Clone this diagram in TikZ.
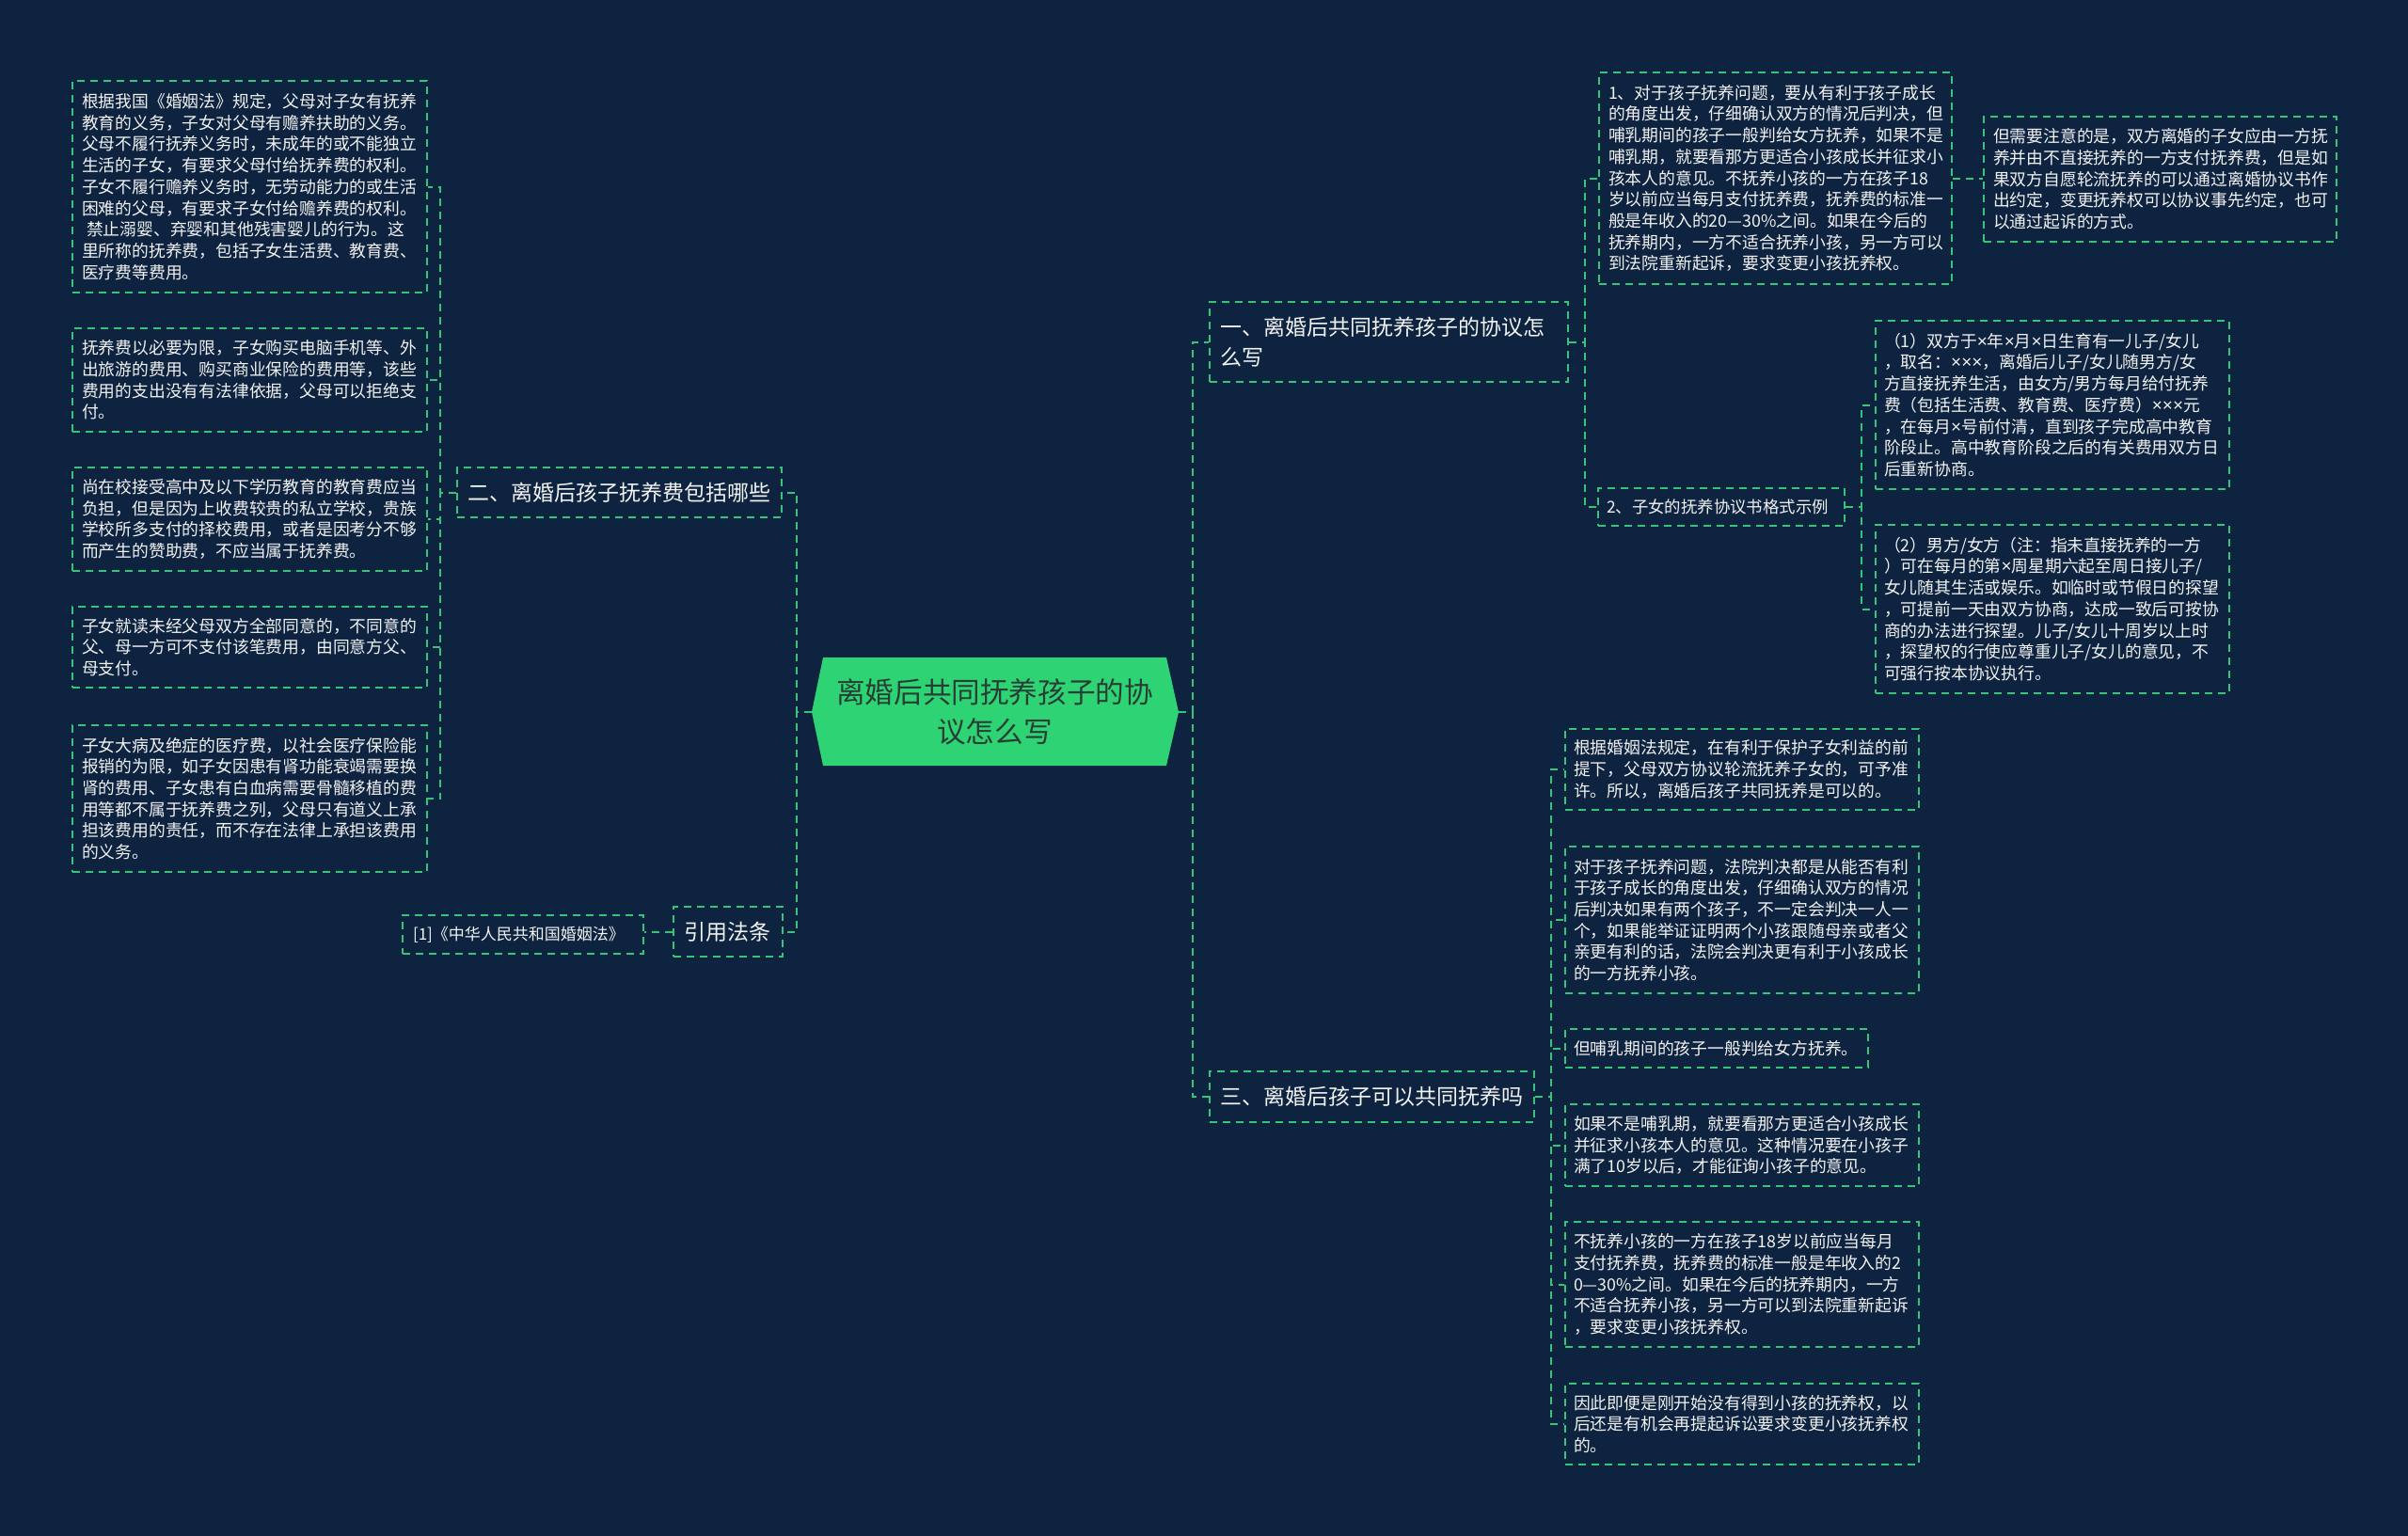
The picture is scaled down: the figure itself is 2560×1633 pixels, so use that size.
\documentclass[tikz,border=0pt]{standalone}
\usepackage{fontspec}
\setmainfont{Noto Sans CJK SC}
\newfontfamily\latfont{Liberation Sans}
\newcommand\tms{{\latfont\fontsize{19pt}{22.7pt}\selectfont ×}}
\usetikzlibrary{calc}
\definecolor{bg}{RGB}{13,35,63}
\definecolor{lc}{RGB}{56,196,118}
\definecolor{rootfill}{RGB}{46,212,116}
\definecolor{roottxt}{RGB}{40,62,52}
\definecolor{txt}{RGB}{242,242,242}
\begin{document}
\begin{tikzpicture}[x=1pt,y=-1pt,
  conn/.style={draw=lc,line width=2pt,dash pattern=on 8pt off 6pt},
  tbox/.style={draw=lc,line width=2pt,dash pattern=on 8pt off 6pt,text=txt,align=left,anchor=north west,inner xsep=10pt,inner ysep=0pt,font=\fontsize{17.8pt}{22.7pt}\selectfont},
  hbox/.style={tbox,inner xsep=11.5pt,font=\fontsize{23pt}{32pt}\selectfont}]
\useasboundingbox (0,0) rectangle (2560,1633);
\fill[bg] (0,0) rectangle (2560,1633);

% root
\fill[rootfill] (863,757) -- (875,699) -- (1240,699) -- (1253,757) -- (1240,814) -- (875,814) -- cycle;
\node[font=\fontsize{30.6pt}{42pt}\selectfont,text=roottxt,align=center,minimum width=365pt,minimum height=115pt,inner sep=0pt] (root) at (1057.5,756.5) {离婚后共同抚养孩子的协\\议怎么写};
\coordinate (rootL) at (863,757);
\coordinate (rootR) at (1253,757);

% left branch
\node[hbox,minimum width=345pt,minimum height=53pt,text width=322pt] (n2) at (485,496) {二、离婚后孩子抚养费包括哪些};
\node[hbox,minimum width=116pt,minimum height=53pt,text width=93pt] (ncite) at (715,963) {引用法条};
\node[tbox,inner xsep=11pt,minimum width=256pt,minimum height=41pt,text width=234pt,font=\fontsize{17pt}{22pt}\selectfont] (ref) at (427,972) {[1]《中华人民共和国婚姻法》};

\node[tbox,minimum width=377pt,minimum height=225pt,text width=357pt] (L1) at (76,85) {根据我国《婚姻法》规定，父母对子女有抚养\\教育的义务，子女对父母有赡养扶助的义务。\\父母不履行抚养义务时，未成年的或不能独立\\生活的子女，有要求父母付给抚养费的权利。\\子女不履行赡养义务时，无劳动能力的或生活\\困难的父母，有要求子女付给赡养费的权利。\\\hspace*{5pt}禁止溺婴、弃婴和其他残害婴儿的行为。这\\里所称的抚养费，包括子女生活费、教育费、\\医疗费等费用。};
\node[tbox,minimum width=377pt,minimum height=110pt,text width=357pt] (L2) at (76,348) {抚养费以必要为限，子女购买电脑手机等、外\\出旅游的费用、购买商业保险的费用等，该些\\费用的支出没有有法律依据，父母可以拒绝支\\付。};
\node[tbox,minimum width=377pt,minimum height=110pt,text width=357pt] (L3) at (76,496) {尚在校接受高中及以下学历教育的教育费应当\\负担，但是因为上收费较贵的私立学校，贵族\\学校所多支付的择校费用，或者是因考分不够\\而产生的赞助费，不应当属于抚养费。};
\node[tbox,minimum width=377pt,minimum height=86pt,text width=357pt] (L4) at (76,644) {子女就读未经父母双方全部同意的，不同意的\\父、母一方可不支付该笔费用，由同意方父、\\母支付。};
\node[tbox,minimum width=377pt,minimum height=156pt,text width=357pt] (L5) at (76,770) {子女大病及绝症的医疗费，以社会医疗保险能\\报销的为限，如子女因患有肾功能衰竭需要换\\肾的费用、子女患有白血病需要骨髓移植的费\\用等都不属于抚养费之列，父母只有道义上承\\担该费用的责任，而不存在法律上承担该费用\\的义务。};

% right branch
\node[hbox,inner xsep=11pt,minimum width=381pt,minimum height=85pt,text width=359pt] (n1) at (1285,320) {一、离婚后共同抚养孩子的协议怎\\么写};
\node[hbox,minimum width=345pt,minimum height=54pt,text width=322pt] (n3) at (1285,1138) {三、离婚后孩子可以共同抚养吗};

\node[tbox,minimum width=375pt,minimum height=225pt,text width=355pt] (R1a) at (1699,76) {1、对于孩子抚养问题，要从有利于孩子成长\\的角度出发，仔细确认双方的情况后判决，但\\哺乳期间的孩子一般判给女方抚养，如果不是\\哺乳期，就要看那方更适合小孩成长并征求小\\孩本人的意见。不抚养小孩的一方在孩子18\\岁以前应当每月支付抚养费，抚养费的标准一\\般是年收入的20—30\%之间。如果在今后的\\抚养期内，一方不适合抚养小孩，另一方可以\\到法院重新起诉，要求变更小孩抚养权。};
\node[tbox,minimum width=375pt,minimum height=133pt,text width=355pt] (R1n) at (2108,123) {但需要注意的是，双方离婚的子女应由一方抚\\养并由不直接抚养的一方支付抚养费，但是如\\果双方自愿轮流抚养的可以通过离婚协议书作\\出约定，变更抚养权可以协议事先约定，也可\\以通过起诉的方式。};
\node[tbox,inner xsep=9pt,minimum width=262pt,minimum height=40pt,text width=244pt,font=\fontsize{17.4pt}{22pt}\selectfont] (R2) at (1698,518) {2、子女的抚养协议书格式示例};
\node[tbox,inner xsep=9pt,minimum width=376pt,minimum height=179pt,text width=358pt] (R2a) at (1993,340) {（1）双方于\tms 年\tms 月\tms 日生育有一儿子/女儿\\，取名：\tms\tms\tms ，离婚后儿子/女儿随男方/女\\方直接抚养生活，由女方/男方每月给付抚养\\费（包括生活费、教育费、医疗费）\tms\tms\tms 元\\，在每月\tms 号前付清，直到孩子完成高中教育\\阶段止。高中教育阶段之后的有关费用双方日\\后重新协商。};
\node[tbox,inner xsep=9pt,minimum width=376pt,minimum height=179pt,text width=358pt] (R2b) at (1993,557) {（2）男方/女方（注：指未直接抚养的一方\\）可在每月的第\tms 周星期六起至周日接儿子/\\女儿随其生活或娱乐。如临时或节假日的探望\\，可提前一天由双方协商，达成一致后可按协\\商的办法进行探望。儿子/女儿十周岁以上时\\，探望权的行使应尊重儿子/女儿的意见，不\\可强行按本协议执行。};

\node[tbox,inner xsep=9pt,minimum width=376pt,minimum height=86pt,text width=358pt] (R3a) at (1663,774) {根据婚姻法规定，在有利于保护子女利益的前\\提下，父母双方协议轮流抚养子女的，可予准\\许。所以，离婚后孩子共同抚养是可以的。};
\node[tbox,inner xsep=9pt,minimum width=376pt,minimum height=156pt,text width=358pt] (R3b) at (1663,899) {对于孩子抚养问题，法院判决都是从能否有利\\于孩子成长的角度出发，仔细确认双方的情况\\后判决如果有两个孩子，不一定会判决一人一\\个，如果能举证证明两个小孩跟随母亲或者父\\亲更有利的话，法院会判决更有利于小孩成长\\的一方抚养小孩。};
\node[tbox,inner xsep=9pt,minimum width=322pt,minimum height=41pt,text width=304pt] (R3c) at (1663,1093) {但哺乳期间的孩子一般判给女方抚养。};
\node[tbox,inner xsep=9pt,minimum width=376pt,minimum height=87pt,text width=358pt] (R3d) at (1663,1173) {如果不是哺乳期，就要看那方更适合小孩成长\\并征求小孩本人的意见。这种情况要在小孩子\\满了10岁以后，才能征询小孩子的意见。};
\node[tbox,inner xsep=9pt,minimum width=376pt,minimum height=133pt,text width=358pt] (R3e) at (1663,1298) {不抚养小孩的一方在孩子18岁以前应当每月\\支付抚养费，抚养费的标准一般是年收入的2\\0—30\%之间。如果在今后的抚养期内，一方\\不适合抚养小孩，另一方可以到法院重新起诉\\，要求变更小孩抚养权。};
\node[tbox,inner xsep=9pt,minimum width=376pt,minimum height=86pt,text width=358pt] (R3f) at (1663,1470) {因此即便是刚开始没有得到小孩的抚养权，以\\后还是有机会再提起诉讼要求变更小孩抚养权\\的。};

% connectors
\draw[conn] (rootL) -- ++(-16,0) |- (n2.east);
\draw[conn] (rootL) -- ++(-16,0) |- (ncite.east);
\foreach \c in {L1,L2,L3,L4,L5} \draw[conn] (n2.west) -- ++(-17,0) |- (\c.east);
\draw[conn] (ncite.west) -- (ncite.west -| ref.east);

\draw[conn] (rootR) -- ++(15,0) |- (n1.west);
\draw[conn] (rootR) -- ++(15,0) |- (n3.west);
\draw[conn] (n1.east) -- ++(17,0) |- (R1a.west);
\draw[conn] (n1.east) -- ++(17,0) |- (R2.west);
\draw[conn] (R1a.east) -- (R1a.east -| R1n.west);
\draw[conn] (R2.east) -- ++(17,0) |- (R2a.west);
\draw[conn] (R2.east) -- ++(17,0) |- (R2b.west);
\foreach \c in {R3a,R3b,R3c,R3d,R3e,R3f} \draw[conn] (n3.east) -- ++(17,0) |- (\c.west);
\end{tikzpicture}
\end{document}
